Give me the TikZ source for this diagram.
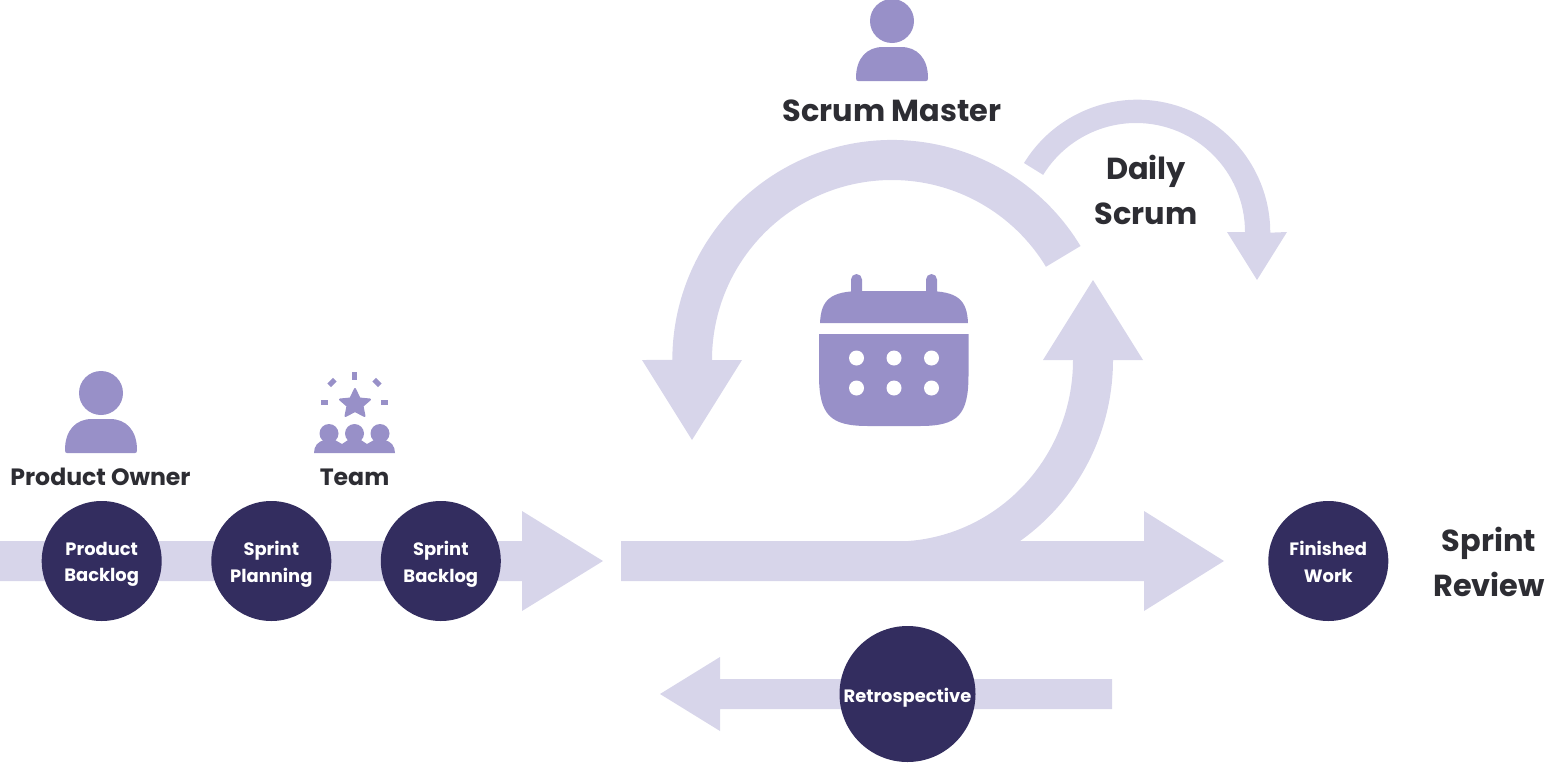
\documentclass[tikz,border=0pt]{standalone}
\usepackage{fontspec}
\setmainfont{Poppins}
\definecolor{lite}{HTML}{D7D5EA}
\definecolor{mid}{HTML}{9890C8}
\definecolor{deep}{HTML}{332D5F}
\definecolor{ink}{HTML}{2D2D33}
\tikzset{
  flow/.style={fill=lite,draw=none},
  icon/.style={fill=mid,draw=none},
  disc/.style={circle,fill=deep,draw=none,minimum size=120pt,inner sep=0pt},
  disctext/.style={align=center,text=white,inner sep=0pt,yshift=-3.5pt,font=\bfseries\fontsize{17.9}{26.5}\selectfont},
  biglabel/.style={text=ink,align=center,inner sep=0pt,font=\bfseries\fontsize{30.4}{45}\selectfont},
  midlabel/.style={text=ink,align=center,inner sep=0pt,font=\bfseries\fontsize{23.6}{26}\selectfont}
}
\newcommand{\personicon}[2]{%
  \fill[icon] (#1,#2) circle[radius=22pt];
  \fill[icon] (#1-34,#2+60) .. controls (#1-35.5,#2+60) and (#1-36,#2+59) .. (#1-36,#2+57)
     .. controls (#1-36,#2+37) and (#1-25,#2+26) .. (#1-9,#2+26)
     -- (#1+9,#2+26)
     .. controls (#1+25,#2+26) and (#1+36,#2+37) .. (#1+36,#2+57)
     .. controls (#1+36,#2+59) and (#1+35.5,#2+60) .. (#1+34,#2+60) -- cycle;
}
\begin{document}
\begin{tikzpicture}[x=1pt,y=-1pt]
\useasboundingbox (0,0) rectangle (1547,763);
% left arrow
\fill[flow] (0,541) -- (522,541) -- (522,511) -- (603,561) -- (522,611) -- (522,581) -- (0,581) -- cycle;
% middle arrow
\fill[flow] (621,541) -- (1144,541) -- (1144,511) -- (1224,561) -- (1144,611) -- (1144,581) -- (621,581) -- cycle;
% rising curve
\fill[flow] (895,541.5) arc[start angle=270,end angle=360,x radius=178pt,y radius=181.5pt]
  -- (1043,360) -- (1093,280) -- (1143,360) -- (1113,360)
  arc[start angle=0,end angle=-55,x radius=218pt,y radius=221pt] -- cycle;
% big return arc
\fill[flow] (1080.5,246) arc[start angle=31.2,end angle=180,radius=220pt]
  -- (642,360) -- (692,440) -- (742,360) -- (712,360)
  arc[start angle=180,end angle=31.2,radius=180pt] -- cycle;
% daily arc
\fill[flow] (1024,163) arc[start angle=148.4,end angle=0,radius=133pt]
  -- (1287,232) -- (1257,280) -- (1227,232) -- (1245,232)
  arc[start angle=0,end angle=148.4,radius=109pt] -- cycle;
% retrospective arrow
\fill[flow] (1112,679) -- (720,679) -- (720,657) -- (660,694) -- (720,731) -- (720,709) -- (1112,709) -- cycle;
% persons
\personicon{892}{21}
\personicon{101}{393}
% calendar
\fill[icon] (851,296) -- (851,279.5) arc[start angle=180,end angle=0,radius=5.5pt] -- (862,291) -- (926,291) -- (926,279.5) arc[start angle=180,end angle=0,radius=5.5pt] -- (937,296) -- cycle;
\fill[icon] (820,323) .. controls (821,300) and (830,291) .. (862,291) -- (926,291) .. controls (958,291) and (967,300) .. (968,323) -- cycle;
\fill[icon] (819,334) -- (968.5,334) -- (968.5,375) .. controls (968.5,415) and (958,426) .. (920,426) -- (868,426) .. controls (830,426) and (819,415) .. (819,375) -- cycle;
\foreach \px in {856.5,894,931.5}\foreach \py in {358,388}{\fill[white] (\px,\py) circle[radius=7.5pt];}
% team icon
\fill[icon,line join=round,draw=mid,line width=2pt] (355,389) -- (359.5,398.5) -- (370,399.5) -- (362.5,406) -- (364.5,416) -- (355,411) -- (345.5,416) -- (347.5,406) -- (340,399.5) -- (350.5,398.5) -- cycle;
\fill[icon] (352,371.5) rectangle (357,379.5);
\fill[icon] (321,400) rectangle (328,405);
\fill[icon] (381,400) rectangle (388,405);
\fill[icon,rotate around={45:(332,382.5)}] (328,380) rectangle (336,385);
\fill[icon,rotate around={-45:(377,382.5)}] (373,380) rectangle (381,385);
\foreach \hx in {329,354.5,380}{\fill[icon] (\hx,433.5) circle[radius=9.5pt];}
\fill[icon] (314,453) .. controls (314,446) and (318,441) .. (325,440) -- (335,440) -- (342,444) -- (348,440) -- (361,440) -- (367,444) -- (374,440) -- (384,440) .. controls (391,441) and (395,446) .. (395,453) -- cycle;
% labels
\node[biglabel] (scrummaster) at (892,111) {Scrum Master};
\node[biglabel] (daily) at (1146,190) {Daily\\Scrum};
\node[biglabel] (review) at (1489,562) {Sprint\\Review};
\node[midlabel] (owner) at (100.5,477) {Product Owner};
\node[midlabel] (teamlabel) at (354.5,477) {Team};
% discs
\node[disc,label={[disctext]center:Product\\Backlog}] (backlog) at (101.7,561) {};
\node[disc,label={[disctext]center:Sprint\\Planning}] (planning) at (271.3,561) {};
\node[disc,label={[disctext]center:Sprint\\Backlog}] (sprintbacklog) at (440.8,561) {};
\node[disc,label={[disctext]center:Finished\\Work\vphantom{g}}] (finished) at (1328.3,561) {};
\node[disc,minimum size=136pt,label={[disctext]center:Retrospective}] (retro) at (907.5,694) {};
\end{tikzpicture}
\end{document}
